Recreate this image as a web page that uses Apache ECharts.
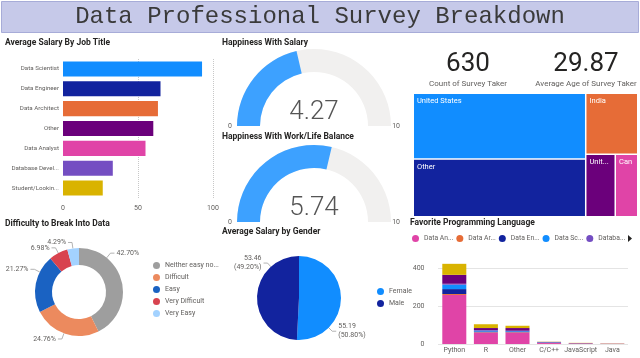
<!DOCTYPE html>
<html><head><meta charset="utf-8">
<script src="https://cdn.jsdelivr.net/npm/echarts@6/dist/echarts.min.js"></script>
<style>html,body{margin:0;padding:0;background:#fff}#c{width:640px;height:358px}</style>
</head><body><div id="c"></div>
<script>
// ---------- data ----------
const mainTitle = 'Data Professional Survey Breakdown';

const jobTitles = ['Data Scientist','Data Engineer','Data Architect','Other','Data Analyst','Database Developer','Student/Looking/None'];
const avgSalary = [92.7, 65.0, 63.3, 60.2, 55.0, 33.2, 26.5];
const salaryTicks = [0, 50, 100];

const happySalary = 4.27;
const happyBalance = 5.74;
const gaugeRange = [0, 10];

const surveyCount = 630;
const avgAge = 29.87;
const kpiLabels = ['Count of Survey Taker', 'Average Age of Survey Taker'];

const countries = ['United States','Other','India','United Kingdom','Canada'];
const countryCounts = [258, 226, 72, 42, 32];

const difficulty = ['Neither easy nor difficult','Difficult','Easy','Very Difficult','Very Easy'];
const difficultyCounts = [269, 156, 134, 44, 27];

const genders = ['Female','Male'];
const genderSalary = [55.19, 53.46];

const languages = ['Python','R','Other','C/C++','JavaScript','Java'];
const roles = ['Data Analyst','Data Architect','Data Engineer','Data Scientist','Database Developer','Other','Student/Looking/None'];
const langDataAnalyst     = [258, 60, 60, 5, 2, 1];
const langDataArchitect   = [5, 2, 2, 1, 1, 0];
const langDataEngineer    = [26, 4, 4, 1, 1, 0];
const langDataScientist   = [23, 5, 3, 2, 0, 0];
const langDatabaseDev     = [5, 1, 1, 0, 0, 0];
const langOther           = [47, 12, 14, 2, 1, 1];
const langStudent         = [58, 20, 12, 1, 1, 1];
const langTicks = [0, 200, 400];
const legendVisibleRoles = 5; // first legend page, rest behind the ▶ arrow

// ---------- styling ----------
const C = {blue:'#118DFF', navy:'#12239E', orange:'#E66C37', purple:'#6B007B', pink:'#E044A7', violet:'#744EC2', yellow:'#D9B300'};
const jobColors = [C.blue, C.navy, C.orange, C.purple, C.pink, C.violet, C.yellow];
const roleColors = [C.pink, C.orange, C.navy, C.blue, C.violet, C.purple, C.yellow];
const countryColors = [C.blue, C.navy, C.orange, C.purple, C.pink];
const diffColors = ['#9E9E9E', '#EC8A5E', '#1A62C2', '#D8434F', '#A3D2FF'];
const genderColors = [C.blue, C.navy];
const langSeries = [langDataAnalyst, langDataArchitect, langDataEngineer, langDataScientist, langDatabaseDev, langOther, langStudent];

const FONT = 'Roboto';
const titleStyle = {fontSize: 8.5, fontWeight: 'bold', color: '#252423', fontFamily: FONT};
const lblColor = '#605E5C';

const pieC = [299, 298], pieR = 42;
const donutC = [79, 292], donutR = [27, 44];
// label anchor angles (degrees) used to place the outside labels like the original layout
const donutLabelAngles = [51, -110, 153, 118, 98];
const genderLabelAngles = [-45, 132];

function placeLabel(center, r, angDeg, radial, horiz) {
  const a = angDeg * Math.PI / 180;
  const ex = center[0] + r * Math.cos(a), ey = center[1] - r * Math.sin(a);
  const bx = ex + radial * Math.cos(a), by = ey - radial * Math.sin(a);
  const dir = Math.cos(a) >= 0 ? 1 : -1;
  const fx = bx + horiz * dir;
  return {x: fx + 2 * dir, y: by, align: dir > 0 ? 'left' : 'right', verticalAlign: 'middle',
          labelLinePoints: [[ex, ey], [bx, by], [fx, by]]};
}

function gauge(value, cy) {
  return {
    type: 'gauge', center: [314, cy], radius: 77,
    startAngle: 180, endAngle: 0, min: gaugeRange[0], max: gaugeRange[1], splitNumber: 1,
    axisLine: {lineStyle: {width: 23, color: [[1, '#F1F0EF']]}},
    progress: {show: true, width: 23, itemStyle: {color: '#3DA1FF'}},
    pointer: {show: false}, anchor: {show: false},
    axisTick: {show: false},
    splitLine: {show: false, length: 0, distance: 0},
    axisLabel: {distance: -9, fontSize: 7, color: lblColor, fontFamily: FONT},
    title: {show: false},
    detail: {offsetCenter: [0, -14], fontSize: 26, fontWeight: 300, color: '#555', fontFamily: FONT,
             formatter: v => v.toFixed(2)},
    data: [{value: value}]
  };
}

const legendFont = '6.8px Roboto';
const shortName = n => echarts.format.truncateText(n, 31, legendFont, '...');

const option = {
  animation: false,
  textStyle: {fontFamily: FONT},
  graphic: [
    {type: 'rect', z: -10, shape: {x: 1.5, y: 1.5, width: 637, height: 31},
     style: {fill: '#C6C9E9', stroke: '#A7ACD8', lineWidth: 1}},
    {type: 'text', x: 320, y: 17, style: {text: mainTitle, fontFamily: 'Liberation Mono', fontSize: 24,
      fill: '#3a3a3a', align: 'center', verticalAlign: 'middle'}},
    {type: 'text', x: 468, y: 64, style: {text: String(surveyCount), fontFamily: FONT, fontSize: 26,
      fill: '#252423', align: 'center', verticalAlign: 'middle'}},
    {type: 'text', x: 468, y: 84, style: {text: kpiLabels[0], fontFamily: FONT, fontSize: 8,
      fill: lblColor, align: 'center', verticalAlign: 'middle'}},
    {type: 'text', x: 586, y: 64, style: {text: avgAge.toFixed(2), fontFamily: FONT, fontSize: 26,
      fill: '#252423', align: 'center', verticalAlign: 'middle'}},
    {type: 'text', x: 586, y: 84, style: {text: kpiLabels[1], fontFamily: FONT, fontSize: 8,
      fill: lblColor, align: 'center', verticalAlign: 'middle'}},
    {type: 'polygon', shape: {points: [[628, 235], [628, 242], [632, 238.5]]}, style: {fill: '#252423'}}
  ],
  title: [
    {text: 'Average Salary By Job Title', left: 5, top: 38, padding: 0, textStyle: titleStyle},
    {text: 'Happiness With Salary', left: 222, top: 38, padding: 0, textStyle: titleStyle},
    {text: 'Happiness With Work/Life Balance', left: 222, top: 132, padding: 0, textStyle: titleStyle},
    {text: 'Difficulty to Break Into Data', left: 5, top: 219, padding: 0, textStyle: titleStyle},
    {text: 'Average Salary by Gender', left: 222, top: 227, padding: 0, textStyle: titleStyle},
    {text: 'Favorite Programming Language', left: 410, top: 218, padding: 0, textStyle: titleStyle}
  ],
  legend: [
    {data: difficulty, orient: 'vertical', left: 153, top: 262, itemGap: 5, itemWidth: 7, itemHeight: 7,
     icon: 'circle', padding: 0, textStyle: {fontSize: 7, color: lblColor, width: 56, overflow: 'truncate'}},
    {data: genders, orient: 'vertical', left: 377, top: 288, itemGap: 5, itemWidth: 7, itemHeight: 7,
     icon: 'circle', padding: 0, textStyle: {fontSize: 7, color: lblColor}},
    {data: roles.slice(0, legendVisibleRoles), orient: 'horizontal', left: 412, top: 235, itemGap: 3,
     itemWidth: 7, itemHeight: 7, icon: 'circle', padding: 0, formatter: shortName,
     textStyle: {fontSize: 6.8, color: lblColor}}
  ],
  grid: [
    {left: 63, width: 150, top: 59, height: 139},
    {left: 438.5, width: 189.6, top: 260.4, height: 83.6}
  ],
  xAxis: [
    {gridIndex: 0, type: 'value', min: salaryTicks[0], max: salaryTicks[salaryTicks.length - 1],
     interval: salaryTicks[1] - salaryTicks[0],
     axisLine: {show: false}, axisTick: {show: false},
     splitLine: {showMinLine: false, lineStyle: {type: 'dotted', color: '#C8C8C8'}},
     axisLabel: {fontSize: 7, color: lblColor, margin: 7}},
    {gridIndex: 1, type: 'category', data: languages, axisLine: {show: false}, axisTick: {show: false},
     axisLabel: {fontSize: 7, color: lblColor, interval: 0, margin: 3}}
  ],
  yAxis: [
    {gridIndex: 0, type: 'category', data: jobTitles, inverse: true, axisLine: {show: false},
     axisTick: {show: false}, axisLabel: {fontSize: 6.2, color: lblColor, margin: 4, width: 50, overflow: 'truncate'}},
    {gridIndex: 1, type: 'value', min: langTicks[0], max: 440, interval: langTicks[1] - langTicks[0],
     axisLine: {show: false}, axisTick: {show: false},
     axisLabel: {fontSize: 7, color: lblColor, showMaxLabel: false, margin: 14},
     splitLine: {showMaxLine: false, lineStyle: {type: 'dotted', color: '#C8C8C8'}}}
  ],
  series: [
    {type: 'bar', name: 'Average Salary', xAxisIndex: 0, yAxisIndex: 0, barCategoryGap: '24%',
     data: avgSalary.map((v, i) => ({value: v, itemStyle: {color: jobColors[i]}}))},
    gauge(happySalary, 126),
    gauge(happyBalance, 222),
    {type: 'treemap', left: 414, top: 94, width: 223, height: 122, roam: false, nodeClick: false,
     breadcrumb: {show: false},
     label: {show: true, position: 'insideTopLeft', fontSize: 7.5, color: '#fff', padding: [3, 3]},
     itemStyle: {borderWidth: 0, gapWidth: 1.5, borderColor: '#fff'},
     levels: [{itemStyle: {borderWidth: 0, gapWidth: 1.5}}],
     data: countries.map((n, i) => ({name: n, value: countryCounts[i], itemStyle: {color: countryColors[i]}}))},
    {type: 'pie', name: 'Difficulty', center: donutC, radius: donutR, startAngle: 90, bleedMargin: 0,
     label: {fontSize: 7, color: lblColor, width: 30, formatter: p => p.percent.toFixed(2) + '%'},
     labelLine: {length: 6, length2: 6, lineStyle: {color: '#A0A0A0', width: 0.8}},
     labelLayout: p => placeLabel(donutC, donutR[1], donutLabelAngles[p.dataIndex], 6, 4),
     data: difficulty.map((n, i) => ({name: n, value: difficultyCounts[i], itemStyle: {color: diffColors[i]}}))},
    {type: 'pie', name: 'Gender', center: pieC, radius: pieR, startAngle: 90, bleedMargin: 0,
     label: {fontSize: 7, color: lblColor, lineHeight: 9, width: 34,
       formatter: p => p.value.toFixed(2) + '\n(' + p.percent.toFixed(2) + '%)'},
     labelLine: {lineStyle: {color: '#A0A0A0', width: 0.8}},
     labelLayout: p => placeLabel(pieC, pieR, genderLabelAngles[p.dataIndex], 5, 4),
     data: genders.map((n, i) => ({name: n, value: genderSalary[i], itemStyle: {color: genderColors[i]}}))}
  ].concat(roles.map((r, i) => ({
    type: 'bar', name: r, stack: 'lang', xAxisIndex: 1, yAxisIndex: 1, barCategoryGap: '24%',
    itemStyle: {color: roleColors[i]}, data: langSeries[i]
  })))
};

const chart = echarts.init(document.getElementById('c'), null, {renderer: 'canvas'});
chart.setOption(option);
</script>
</body></html>
